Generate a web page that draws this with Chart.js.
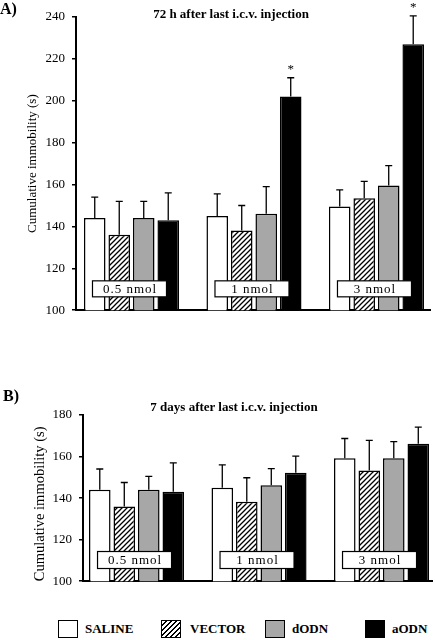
<!DOCTYPE html>
<html>
<head>
<meta charset="utf-8">
<script src="https://cdn.jsdelivr.net/npm/chart.js@4.4.1/dist/chart.umd.min.js"></script>
<style>
  body { margin: 0; background: #fff; }
  #wrap { position: relative; width: 435px; height: 640px; overflow: hidden; font-family: 'Liberation Serif', 'Times New Roman', serif; color: #000; }
  #wrap canvas { position: absolute; left: 0; }
  .txt { position: absolute; white-space: nowrap; line-height: 1; font-weight: bold; }
  .panel { font-size: 16px; }
  .title { font-size: 13px; transform: translateX(-50%); }
  .sw { position: absolute; width: 18px; height: 16px; border: 1.5px solid #000; background: #fff; }
  .leg { position: absolute; font-size: 13px; font-weight: bold; line-height: 1; }
</style>
</head>
<body>
<div id="wrap">
  <canvas id="chartA" width="435" height="325" style="top:0"></canvas>
  <canvas id="chartB" width="435" height="196" style="top:400px"></canvas>

  <div class="txt panel" style="left:0;top:1px">A)</div>
  <div class="txt title" style="left:231px;top:7px">72 h after last i.c.v. injection</div>
  <div class="txt panel" style="left:3px;top:388px">B)</div>
  <div class="txt title" style="left:234px;top:400px">7 days after last i.c.v. injection</div>

  <div id="legend"></div>
</div>

<script>
// dose groups (x categories) and treatment series
const doses = ['0.5 nmol', '1 nmol', '3 nmol'];
const groups = ['SALINE', 'VECTOR', 'dODN', 'aODN'];

// A) 72 h after last injection
const ticksA = [100, 120, 140, 160, 180, 200, 220, 240];
const salineA = [144, 145, 149.5];
const salineErrA = [10, 10.5, 8];
const vectorA = [136, 138, 153.5];
const vectorErrA = [16, 12, 8];
const dodnA = [144, 146, 159.5];
const dodnErrA = [8, 13, 9.5];
const aodnA = [143, 202, 227];
const aodnErrA = [13, 9, 13.5];
const aodnStarsA = [false, true, true];

// B) 7 days after last injection
const ticksB = [100, 120, 140, 160, 180];
const salineB = [144, 145, 159.2];
const salineErrB = [10, 11, 9.5];
const vectorB = [136, 138.3, 153.3];
const vectorErrB = [11.5, 11.5, 14.5];
const dodnB = [144, 146.2, 159.2];
const dodnErrB = [6.5, 8, 8];
const aodnB = [143, 152.2, 166.2];
const aodnErrB = [14, 8, 8];

const SERIF = "'Liberation Serif', 'Times New Roman', serif";

function makeHatch(ctx) {
    const c = document.createElement('canvas');
    c.width = 5; c.height = 5;
    const g = c.getContext('2d');
    g.fillStyle = '#fff';
    g.fillRect(0, 0, 5, 5);
    g.strokeStyle = '#000';
    g.lineWidth = 1.3;
    g.beginPath();
    g.moveTo(-1, 6); g.lineTo(6, -1);
    g.moveTo(-3.5, 3.5); g.lineTo(3.5, -3.5);
    g.moveTo(1.5, 8.5); g.lineTo(8.5, 1.5);
    g.stroke();
    return ctx.createPattern(c, 'repeat');
}

function buildDatasets(ctx, series, errs, stars) {
    const fills = ['#ffffff', makeHatch(ctx), '#a7a7a7', '#000000'];
    return groups.map((name, k) => ({
        label: name,
        data: series[k].map((v, i) => ({ x: i, y: v })),
        errors: errs[k],
        stars: stars[k],
        backgroundColor: fills[k],
        borderColor: '#000',
        borderWidth: 1.5,
        categoryPercentage: 0.8,
        barPercentage: 0.88
    }));
}

// error bars, asterisks and dose boxes
const extrasPlugin = {
    id: 'extras',
    afterDatasetsDraw(chart, args, opts) {
        const ctx = chart.ctx;
        const xs = chart.scales.x;
        const ys = chart.scales.y;
        ctx.save();
        ctx.strokeStyle = '#000';
        ctx.fillStyle = '#000';
        ctx.lineWidth = 1.3;
        chart.data.datasets.forEach((ds, di) => {
            chart.getDatasetMeta(di).data.forEach((bar, i) => {
                const top = ys.getPixelForValue(ds.data[i].y + ds.errors[i]);
                ctx.beginPath();
                ctx.moveTo(bar.x, bar.y);
                ctx.lineTo(bar.x, top);
                ctx.moveTo(bar.x - 3.5, top);
                ctx.lineTo(bar.x + 3.5, top);
                ctx.stroke();
                if (ds.stars && ds.stars[i]) {
                    ctx.font = '13px ' + SERIF;
                    ctx.textAlign = 'center';
                    ctx.textBaseline = 'middle';
                    ctx.fillText('*', bar.x, top - 8);
                }
            });
        });
        doses.forEach((d, i) => {
            const cx = xs.getPixelForValue(i) - 2;
            const cy = ys.getPixelForValue(opts.level);
            const w = 74, h = opts.boxH;
            ctx.fillStyle = '#fff';
            ctx.fillRect(cx - w / 2, cy - h / 2, w, h);
            ctx.lineWidth = 1.2;
            ctx.strokeRect(cx - w / 2, cy - h / 2, w, h);
            ctx.fillStyle = '#000';
            ctx.font = '13px ' + SERIF;
            ctx.letterSpacing = '1px';
            ctx.textAlign = 'center';
            ctx.textBaseline = 'middle';
            ctx.fillText(d, cx + 0.5, cy + 1);
            ctx.letterSpacing = '0px';
        });
        ctx.restore();
    }
};

function createChart(id, series, errs, stars, ticks, cfg) {
    const canvas = document.getElementById(id);
    const ctx = canvas.getContext('2d');
    return new Chart(ctx, {
        type: 'bar',
        data: { datasets: buildDatasets(ctx, series, errs, stars) },
        plugins: [extrasPlugin],
        options: {
            responsive: false,
            animation: false,
            devicePixelRatio: 1,
            layout: { padding: { left: 0, right: cfg.padRight, top: cfg.padTop, bottom: 5 } },
            plugins: {
                legend: { display: false },
                tooltip: { enabled: false },
                extras: { level: 110.2, boxH: cfg.boxH }
            },
            scales: {
                x: {
                    type: 'linear',
                    offset: false,
                    min: cfg.xMin,
                    max: cfg.xMax,
                    afterBuildTicks: s => { s.ticks = doses.map((d, i) => ({ value: i })); },
                    afterFit: s => { s.height = 0; },
                    ticks: { display: false },
                    grid: { display: false, drawTicks: false },
                    border: { display: true, color: '#000', width: 2 }
                },
                y: {
                    min: ticks[0],
                    max: ticks[ticks.length - 1],
                    afterBuildTicks: s => { s.ticks = ticks.map(v => ({ value: v })); },
                    afterFit: s => { s.width = cfg.axisX; },
                    ticks: {
                        color: '#000',
                        padding: 7,
                        font: { family: SERIF, size: 13 }
                    },
                    grid: {
                        display: true,
                        drawOnChartArea: false,
                        drawTicks: true,
                        tickLength: 4,
                        color: '#000',
                        lineWidth: 1.5
                    },
                    border: { display: true, color: '#000', width: 2 },
                    title: {
                        display: true,
                        text: 'Cumulative immobility (s)',
                        color: '#000',
                        align: cfg.titleAlign,
                        font: { family: SERIF, size: cfg.titleSize },
                        padding: { top: cfg.titlePad, bottom: 0 }
                    }
                }
            }
        }
    });
}

let chartA = createChart('chartA',
    [salineA, vectorA, dodnA, aodnA],
    [salineErrA, vectorErrA, dodnErrA, aodnErrA],
    [null, null, null, aodnStarsA],
    ticksA,
    { axisX: 76, padTop: 17, padRight: 5, xMin: -0.453, xMax: 2.437, boxH: 16, titleSize: 13, titlePad: 25, titleAlign: 'center' });

let chartB = createChart('chartB',
    [salineB, vectorB, dodnB, aodnB],
    [salineErrB, vectorErrB, dodnErrB, aodnErrB],
    [null, null, null, null],
    ticksB,
    { axisX: 83, padTop: 15, padRight: 3, xMin: -0.437, xMax: 2.412, boxH: 17, titleSize: 14.5, titlePad: 31, titleAlign: 'start' });

// legend under panel B
const legendBoxX = [58, 161, 265, 365];
const legendTextX = [85, 190, 292, 392];
const legendEl = document.getElementById('legend');
const swatchBg = ['#fff', 'repeating-linear-gradient(135deg, #fff 0 2.4px, #000 2.4px 3.6px)', '#a7a7a7', '#000'];
groups.forEach((name, k) => {
    const sw = document.createElement('div');
    sw.className = 'sw';
    sw.style.left = legendBoxX[k] + 'px';
    sw.style.top = '620px';
    sw.style.background = swatchBg[k];
    legendEl.appendChild(sw);
    const t = document.createElement('div');
    t.className = 'leg';
    t.style.left = legendTextX[k] + 'px';
    t.style.top = '622px';
    t.textContent = name;
    legendEl.appendChild(t);
});
</script>
</body>
</html>
